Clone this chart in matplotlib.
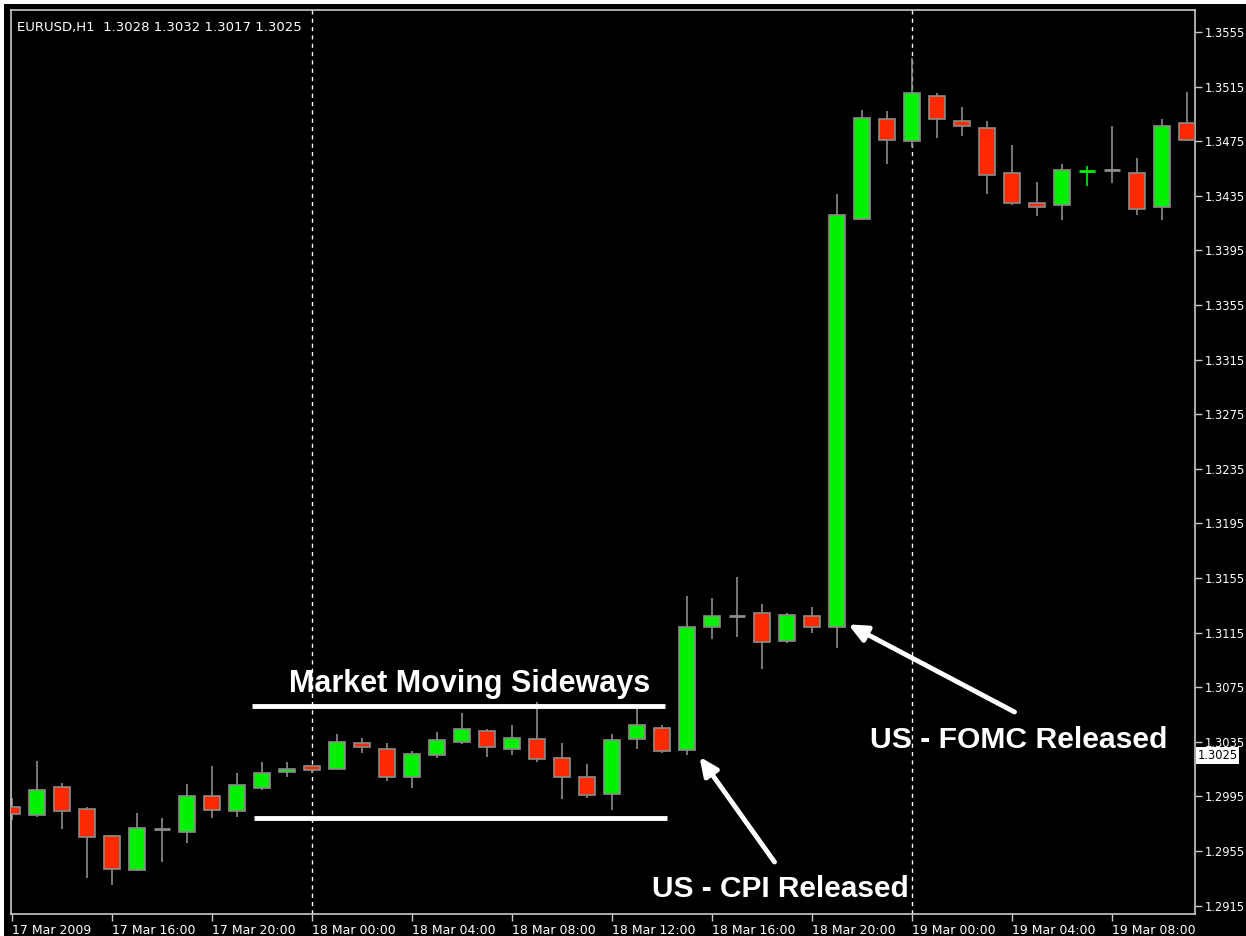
import pandas as pd
import matplotlib.pyplot as plt
import numpy as np

# EURUSD H1 candles, 17 Mar 2009 12:00 onwards
opens = [1.2987, 1.2981, 1.3002, 1.2986, 1.2966, 1.2941, 1.2971, 1.2969, 1.2995, 1.2984,
         1.3001, 1.3013, 1.3017, 1.3015, 1.3034, 1.3030, 1.3009, 1.3025, 1.3035, 1.3043,
         1.3030, 1.3037, 1.3023, 1.3009, 1.2997, 1.3037, 1.3045, 1.3029, 1.3119, 1.3127,
         1.3129, 1.3109, 1.3127, 1.3119, 1.3418, 1.3491, 1.3475, 1.3508, 1.3490, 1.3485,
         1.3452, 1.3430, 1.3428, 1.3453, 1.3454, 1.3452, 1.3427, 1.3488]
highs = [1.2994, 1.3021, 1.3005, 1.2987, 1.2967, 1.2983, 1.2979, 1.3004, 1.3017, 1.3012,
         1.3020, 1.3020, 1.3018, 1.3041, 1.3038, 1.3034, 1.3028, 1.3042, 1.3056, 1.3044,
         1.3047, 1.3064, 1.3034, 1.3019, 1.3041, 1.3060, 1.3047, 1.3142, 1.3140, 1.3156,
         1.3136, 1.3129, 1.3134, 1.3436, 1.3498, 1.3497, 1.3536, 1.3510, 1.3500, 1.3490,
         1.3472, 1.3445, 1.3458, 1.3457, 1.3486, 1.3463, 1.3491, 1.3511]
lows = [1.2978, 1.2980, 1.2971, 1.2935, 1.2930, 1.2940, 1.2947, 1.2961, 1.2979, 1.2980,
        1.3000, 1.3009, 1.3012, 1.3015, 1.3027, 1.3006, 1.3001, 1.3023, 1.3033, 1.3024,
        1.3025, 1.3020, 1.2993, 1.2994, 1.2985, 1.3030, 1.3027, 1.3025, 1.3110, 1.3112,
        1.3088, 1.3107, 1.3115, 1.3104, 1.3417, 1.3458, 1.3471, 1.3477, 1.3479, 1.3436,
        1.3428, 1.3420, 1.3417, 1.3442, 1.3444, 1.3421, 1.3417, 1.3475]
closes = [1.2982, 1.3000, 1.2984, 1.2965, 1.2942, 1.2972, 1.2971, 1.2995, 1.2985, 1.3003,
          1.3012, 1.3015, 1.3014, 1.3035, 1.3031, 1.3009, 1.3026, 1.3036, 1.3044, 1.3031,
          1.3038, 1.3022, 1.3009, 1.2996, 1.3036, 1.3047, 1.3028, 1.3119, 1.3127, 1.3127,
          1.3108, 1.3128, 1.3119, 1.3421, 1.3492, 1.3476, 1.3510, 1.3491, 1.3486, 1.3450,
          1.3430, 1.3427, 1.3454, 1.3454, 1.3454, 1.3425, 1.3486, 1.3476]

times = pd.date_range('2009-03-17 12:00', periods=len(opens), freq='h')
price_ticks = np.round(np.arange(1.2915, 1.3556, 0.004), 4)
sideways_top = 1.3061
sideways_bottom = 1.2979
last_price = 1.3025
header = 'EURUSD,H1  1.3028 1.3032 1.3017 1.3025'

up_col = '#00f000'
down_col = '#ff2a00'
grey = '#8c8c8c'

fig = plt.figure(figsize=(12.46, 9.36), dpi=100, facecolor='black')
ax = fig.add_axes([11 / 1246, 22 / 936, 1184 / 1246, 904 / 936], facecolor='black')

# thin white strip left by the screenshot crop (top and left edge)
fig.patches.append(plt.Rectangle((0, 1 - 4 / 936), 1, 4 / 936, transform=fig.transFigure,
                                 facecolor='white', edgecolor='none'))
fig.patches.append(plt.Rectangle((0, 0), 4 / 1246, 1, transform=fig.transFigure,
                                 facecolor='white', edgecolor='none'))

x = np.arange(len(opens))
o = np.array(opens)
h = np.array(highs)
l = np.array(lows)
c = np.array(closes)
w = 0.66

for i in x:
    body = abs(c[i] - o[i])
    col = up_col if c[i] > o[i] else (down_col if c[i] < o[i] else grey)
    if body <= 0.00011:
        # doji / tiny body: drawn as a cross in the body colour
        ax.vlines(i, l[i], h[i], color=col, lw=1.2, zorder=2)
        ax.hlines((o[i] + c[i]) / 2, i - w / 2, i + w / 2, color=col, lw=2, zorder=3)
    else:
        ax.vlines(i, l[i], h[i], color=grey, lw=1.2, zorder=2)
        ax.bar(i, body, bottom=min(o[i], c[i]), width=w, color=col,
               edgecolor=grey, linewidth=1.2, zorder=3)

# day separators
for i in x:
    if times[i].hour == 0:
        ax.axvline(i, color='white', lw=1, ls=(0, (3, 3)), zorder=1)

# sideways range
ax.plot([9.6, 26.1], [sideways_top] * 2, color='white', lw=3.5, solid_capstyle='butt', zorder=4)
ax.plot([9.7, 26.2], [sideways_bottom] * 2, color='white', lw=3.5, solid_capstyle='butt', zorder=4)

txt = dict(color='white', fontweight='bold', family='Liberation Sans',
           ha='center', va='center', zorder=5)
ax.text(18.3, 1.30775, 'Market Moving Sideways', fontsize=22, **txt)
ax.text(30.75, 1.2927, 'US - CPI Released', fontsize=21.5, **txt)
ax.text(40.25, 1.30365, 'US - FOMC Released', fontsize=21.7, **txt)

arrow = dict(arrowstyle='-|>,head_length=1.1,head_width=0.5', color='white',
             lw=3.5, shrinkA=0, shrinkB=0)
ax.annotate('', xy=(27.5, 1.3024), xytext=(30.5, 1.29469), arrowprops=arrow, zorder=5)
ax.annotate('', xy=(33.45, 1.3121), xytext=(40.1, 1.30568), arrowprops=arrow, zorder=5)

ax.text(0.005, 0.988, header, transform=ax.transAxes, color='white', fontsize=9.5,
        ha='left', va='top', zorder=6)

ax.set_xlim(-0.04, 47.32)
ax.set_ylim(1.29088, 1.35711)

ax.yaxis.tick_right()
ax.set_yticks(price_ticks)
ax.set_yticklabels([f'{p:.4f}' for p in price_ticks])
tick_pos = x[::4]
tick_lab = [times[i].strftime('%d %b %Y') if i == 0 else times[i].strftime('%d %b %H:%M')
            for i in tick_pos]
ax.set_xticks(tick_pos)
ax.set_xticklabels(tick_lab, ha='left')
ax.tick_params(axis='both', colors='#c8c8c8', labelcolor='white',
               length=5, width=1, direction='out', pad=2)
ax.tick_params(axis='x', labelsize=9)
ax.tick_params(axis='y', labelsize=8.3)
for s in ax.spines.values():
    s.set_color('#c8c8c8')
    s.set_linewidth(1.2)

ax.text(1.002, last_price, f'{last_price:.4f}', transform=ax.get_yaxis_transform(),
        color='black', fontsize=8.3, ha='left', va='center', zorder=7, clip_on=False,
        bbox=dict(boxstyle='square,pad=0.15', facecolor='white', edgecolor='none'))

fig.savefig('out.png', dpi=100, facecolor='black')
